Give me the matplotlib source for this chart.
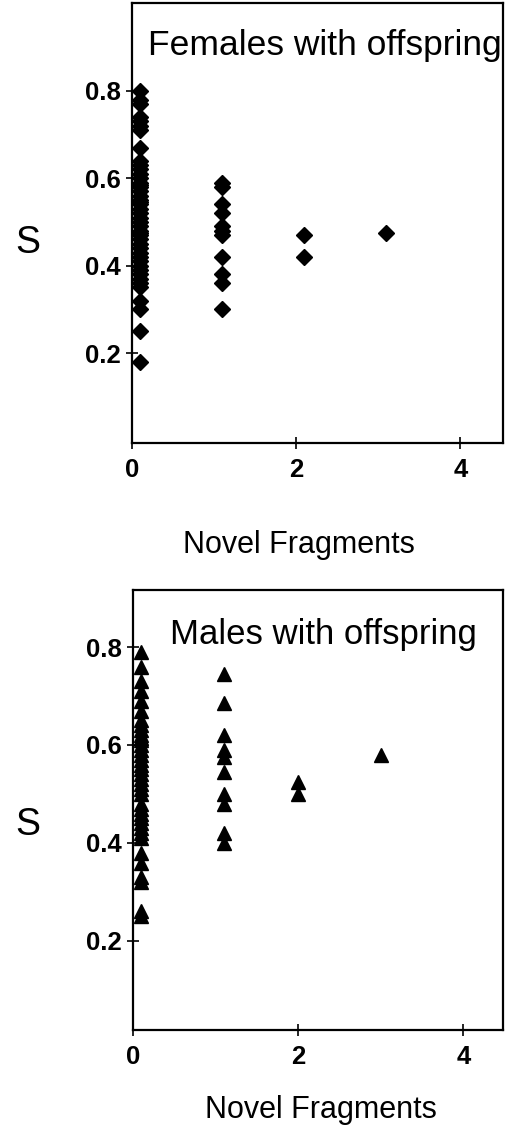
import matplotlib
matplotlib.use("Agg")
import matplotlib.pyplot as plt

plt.rcParams['font.family'] = ['Liberation Sans', 'DejaVu Sans']

# females with offspring: novel fragments (plotted slightly offset) vs S
fem_x0 = [0.1] * 45
fem_s0 = [0.80, 0.78, 0.77, 0.74, 0.73, 0.72, 0.71, 0.67, 0.64, 0.63,
          0.62, 0.61, 0.60, 0.59, 0.585, 0.58, 0.57, 0.56, 0.55, 0.545,
          0.54, 0.53, 0.52, 0.51, 0.50, 0.49, 0.48, 0.475, 0.47, 0.46,
          0.45, 0.44, 0.43, 0.42, 0.41, 0.40, 0.39, 0.38, 0.37, 0.36,
          0.35, 0.32, 0.30, 0.25, 0.18]
fem_x1 = [1.1] * 11
fem_s1 = [0.59, 0.58, 0.54, 0.52, 0.49, 0.48, 0.47, 0.42, 0.38, 0.36, 0.30]
fem_x2 = [2.1, 2.1]
fem_s2 = [0.47, 0.42]
fem_x3 = [3.1]
fem_s3 = [0.475]

# males with offspring
mal_x0 = [0.1] * 37
mal_s0 = [0.79, 0.76, 0.73, 0.71, 0.69, 0.67, 0.65, 0.64, 0.63, 0.62,
          0.615, 0.61, 0.60, 0.59, 0.58, 0.57, 0.56, 0.55, 0.54, 0.53,
          0.52, 0.51, 0.50, 0.48, 0.47, 0.46, 0.45, 0.44, 0.43, 0.42,
          0.41, 0.38, 0.36, 0.33, 0.32, 0.26, 0.25]
mal_x1 = [1.1] * 10
mal_s1 = [0.745, 0.685, 0.62, 0.59, 0.575, 0.545, 0.50, 0.48, 0.42, 0.40]
mal_x2 = [2.0, 2.0]
mal_s2 = [0.525, 0.50]
mal_x3 = [3.0]
mal_s3 = [0.58]

x_ticks = [0, 2, 4]
y_ticks = [0.2, 0.4, 0.6, 0.8]

fig = plt.figure(figsize=(5.05, 11.35), dpi=100)
fig.set_facecolor('white')

ax1 = fig.add_axes([0.261, 0.610, 0.735, 0.387])
ax2 = fig.add_axes([0.263, 0.0925, 0.733, 0.3875])


def style_axis(ax, ylo, yhi, xhi):
    ax.set_xlim(0, xhi)
    ax.set_ylim(ylo, yhi)
    ax.set_xticks(x_ticks)
    ax.set_yticks(y_ticks)
    ax.set_xticklabels([str(t) for t in x_ticks])
    ax.set_yticklabels(["%.1f" % t for t in y_ticks])
    ax.tick_params(direction='inout', length=8, width=1.2, labelsize=18.5,
                   color='black')
    ax.tick_params(axis='x', pad=7)
    ax.tick_params(axis='y', pad=4)
    for lab in ax.get_xticklabels() + ax.get_yticklabels():
        lab.set_fontweight('bold')
    for sp in ax.spines.values():
        sp.set_linewidth(1.6)


for xs, ys in [(fem_x0, fem_s0), (fem_x1, fem_s1), (fem_x2, fem_s2), (fem_x3, fem_s3)]:
    ax1.plot(xs, ys, linestyle='none', marker='D', markersize=8,
             color='black', clip_on=False)
style_axis(ax1, -0.005, 1.0, 4.52)
ax1.text(0.52, 0.905, "Females with offspring", transform=ax1.transAxes,
         ha='center', va='center', fontsize=25.5)

for xs, ys in [(mal_x0, mal_s0), (mal_x1, mal_s1), (mal_x2, mal_s2), (mal_x3, mal_s3)]:
    ax2.plot(xs, ys, linestyle='none', marker='^', markersize=9.5,
             color='black', clip_on=False)
style_axis(ax2, 0.018, 0.916, 4.48)
ax2.text(0.515, 0.90, "Males with offspring", transform=ax2.transAxes,
         ha='center', va='center', fontsize=25)

fig.text(0.055, 0.786, "S", fontsize=27, ha='center', va='center')
fig.text(0.055, 0.273, "S", fontsize=27, ha='center', va='center')
fig.text(0.592, 0.520, "Novel Fragments", fontsize=22, ha='center', va='center')
fig.text(0.636, 0.022, "Novel Fragments", fontsize=22, ha='center', va='center')

fig.savefig("out.png", dpi=100, facecolor='white')
